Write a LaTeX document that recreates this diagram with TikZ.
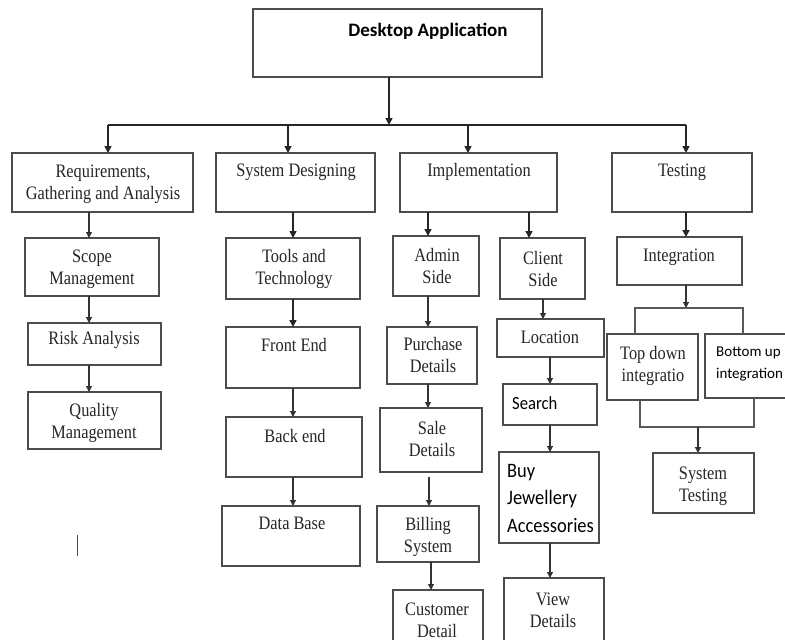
\documentclass[tikz,border=0pt]{standalone}
\usepackage{fontspec}
\setmainfont[FakeStretch=0.86]{Liberation Serif}
\newfontfamily\calibri[FakeStretch=0.9]{Carlito}
\newfontfamily\calibrib{Carlito}
\usetikzlibrary{arrows.meta,shadows}
% box given by its top-left and bottom-right corners (y grows downwards)
\newcommand\mkbox[6][]{%
  \node[box,#1,anchor=north west,minimum width={(#5)-(#3)},minimum height={(#6)-(#4)}] (#2) at (#3,#4) {};}
\begin{document}
\begin{tikzpicture}[x=1pt,y=-1pt,
  box/.style={draw=black!70, fill=white, line width=1.4pt, inner sep=0pt, outer sep=0pt,
    drop shadow={shadow xshift=0.4pt, shadow yshift=-1.3pt, opacity=0.55, fill=black!70}},
  lbl/.style={font=\fontsize{19}{22}\selectfont, align=center, inner sep=0pt, text=black!85},
  sanslbl/.style={font=\calibri\fontsize{18.5}{22}\selectfont, align=left, inner sep=0pt, anchor=west},
  conn/.style={draw=black!85, line width=1.6pt},
  arr/.style={conn, -{Triangle[length=7pt,width=7pt]}},
  sarr/.style={draw=black!80, line width=1.2pt, -{Triangle[length=6pt,width=6pt]}},
  link/.style={draw=black!65, line width=1.2pt},
]
\useasboundingbox (0,0) rectangle (785,640);
\clip (0,0) rectangle (785,640);

% ---- testing branch bracket points ----
\coordinate (splitC) at (686,308);
\coordinate (splitL) at (635,308);
\coordinate (splitR) at (743,308);
\coordinate (joinL) at (640,427);
\coordinate (joinR) at (754,427);
\coordinate (joinC) at (698,427);

% ---- boxes ----
\mkbox{app}{253}{9}{542}{77}
\mkbox{req}{12}{153}{193}{212}
\mkbox{sys}{216}{153}{375}{212}
\mkbox{impl}{400}{153}{557}{212}
\mkbox{test}{612}{153}{752}{212}
\mkbox{scope}{25}{238}{159}{296}
\mkbox{risk}{28}{323}{161}{365}
\mkbox{qual}{28}{392}{161}{449}
\mkbox{tools}{226}{238}{360}{299}
\mkbox{front}{226}{327}{360}{388}
\mkbox{back}{226}{417}{362}{477}
\mkbox{db}{222}{506}{360}{566}
\mkbox{admin}{393}{236}{479}{296}
\mkbox{client}{500}{238}{585}{299}
\mkbox{purch}{387}{327}{477}{384}
\mkbox{sale}{380}{408}{482}{472}
\mkbox{bill}{377}{506}{479}{562}
\mkbox{cust}{393}{590}{483}{660}
\mkbox{loc}{497}{319}{604}{357}
\mkbox[line width=1.1pt]{search}{503}{384}{597}{425}
\mkbox{buy}{499}{452}{599}{543}
\mkbox{view}{504}{578}{604}{660}
\mkbox{integ}{617}{237}{742}{285}
\mkbox{topd}{607}{334}{698}{400}
\mkbox{botu}{705}{334}{800}{398}
\mkbox{systest}{653}{453}{754}{513}

% ---- labels ----
\node[font=\calibrib\bfseries\fontsize{19}{22}\selectfont, inner sep=0pt] (t-app) at (428,31) {Desktop Application};
\node[lbl] (t-req) at (103,184) {Requirements,\\Gathering and Analysis};
\node[lbl] (t-sys) at (296,172) {System Designing};
\node[lbl] (t-impl) at (479,172) {Implementation};
\node[lbl] (t-test) at (682,172) {Testing};
\node[lbl] (t-scope) at (92,269) {Scope\\Management};
\node[lbl] (t-risk) at (94,340) {Risk Analysis};
\node[lbl] (t-qual) at (94,423) {Quality\\Management};
\node[lbl] (t-tools) at (294,269) {Tools and\\Technology};
\node[lbl] (t-front) at (294,345) {Front End};
\node[lbl] (t-back) at (295,436) {Back end};
\node[lbl] (t-db) at (292,523) {Data Base};
\node[lbl] (t-admin) at (437,266) {Admin\\Side};
\node[lbl] (t-client) at (543,269) {Client\\Side};
\node[lbl] (t-purch) at (433,355) {Purchase\\Details};
\node[lbl] (t-loc) at (550,337) {Location};
\node[sanslbl] (t-search) at (512,403) {Search};
\node[lbl] (t-sale) at (432,439) {Sale\\Details};
\node[sanslbl, font=\calibri\fontsize{20.5}{27.5}\selectfont] (t-buy) at (507,498) {Buy\\Jewellery\\Accessories};
\node[lbl] (t-bill) at (428,537) {Billing\\System};
\node[lbl] (t-cust) at (437,620) {Customer\\Detail};
\node[lbl] (t-view) at (553,610) {View\\Details};
\node[lbl] (t-integ) at (679,257) {Integration};
\node[lbl] (t-topd) at (653,366) {Top down\\integratio};
\node[sanslbl, font=\calibrib\fontsize{15}{22}\selectfont] (t-botu) at (716,364) {Bottom up\\integration};
\node[lbl] (t-systest) at (703,486) {System\\Testing};

% ---- top level distribution bar ----
\coordinate (hub) at (389,125);
\coordinate (busA) at (108,125);
\coordinate (busB) at (288,125);
\coordinate (busC) at (468,125);
\coordinate (busD) at (686,125);
\draw[arr] (hub |- app.south) -- (hub);
\draw[conn] (busA) -- (busD);
\draw[arr] (busA) -- (busA |- req.north);
\draw[arr] (busB) -- (busB |- sys.north);
\draw[arr] (busC) -- (busC |- impl.north);
\draw[arr] (busD) -- (busD |- test.north);

% ---- column connectors ----
\coordinate (cReq) at (89,0);
\draw[sarr] (cReq |- req.south) -- (cReq |- scope.north);
\draw[sarr] (cReq |- scope.south) -- (cReq |- risk.north);
\draw[sarr] (cReq |- risk.south) -- (cReq |- qual.north);

\coordinate (cSys) at (293,0);
\draw[arr] (cSys |- sys.south) -- (cSys |- tools.north);
\draw[arr] (cSys |- tools.south) -- (cSys |- front.north);
\draw[sarr] (cSys |- front.south) -- (cSys |- back.north);
\draw[sarr] (cSys |- back.south) -- (cSys |- db.north);

\coordinate (cAdm) at (428,0);
\coordinate (saleGap) at (429,477);
\draw[arr] (cAdm |- impl.south) -- (cAdm |- admin.north);
\draw[sarr] (cAdm |- admin.south) -- (cAdm |- purch.north);
\draw[sarr] (cAdm |- purch.south) -- (cAdm |- sale.north);
\draw[sarr] (saleGap) -- (saleGap |- bill.north);
\coordinate (cBill) at (431,0);
\draw[sarr] (cBill |- bill.south) -- (cBill |- cust.north);

\coordinate (cCli) at (529,0);
\coordinate (cLoc) at (543,0);
\coordinate (cBuy) at (550,0);
\draw[arr] (cCli |- impl.south) -- (cCli |- client.north);
\draw[sarr] (cLoc |- client.south) -- (cLoc |- loc.north);
\draw[sarr] (cBuy |- loc.south) -- (cBuy |- search.north);
\draw[sarr] (cBuy |- search.south) -- (cBuy |- buy.north);
\draw[sarr] (cBuy |- buy.south) -- (cBuy |- view.north);

% ---- testing branch ----
\coordinate (cTst) at (686,0);
\draw[arr] (cTst |- test.south) -- (cTst |- integ.north);
\draw[sarr] (cTst |- integ.south) -- (splitC);
\draw[link] (splitL |- topd.north) -- (splitL) -- (splitR) -- (splitR |- botu.north);
\draw[link] (joinL |- topd.south) -- (joinL) -- (joinR) -- (joinR |- botu.south);
\draw[sarr] (joinC) -- (joinC |- systest.north);

% stray pen mark below the requirements column
\draw[draw=black!70, line width=1pt] (77,535) -- (77,556);
\end{tikzpicture}
\end{document}
